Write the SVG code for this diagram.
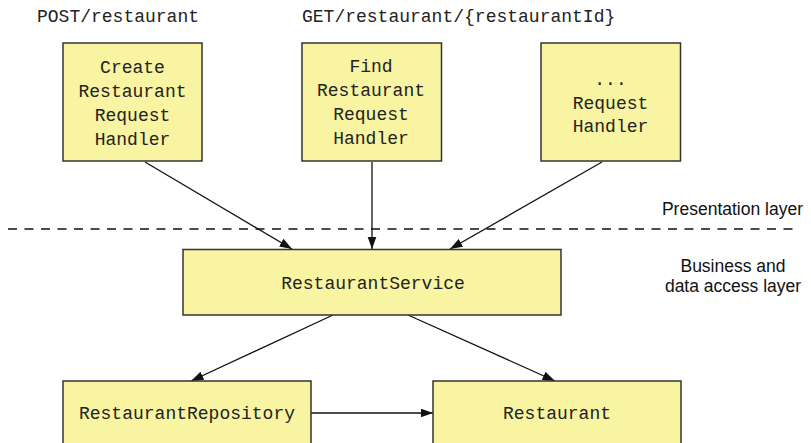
<svg xmlns="http://www.w3.org/2000/svg" width="811" height="443" viewBox="0 0 811 443">
<style>
.box{fill:#f9f4a1;stroke:#333;stroke-width:1.5}
.mono{font-family:"Liberation Mono","Courier New",monospace;font-size:18px;fill:#222}
.mid{text-anchor:middle}
.sans{font-family:"Liberation Sans",Arial,sans-serif;font-size:17.5px;fill:#111}
.conn{stroke:#111;stroke-width:1.3;fill:none;marker-end:url(#ah)}
</style>
<defs>
<marker id="ah" markerUnits="userSpaceOnUse" markerWidth="13" markerHeight="10" refX="12.5" refY="4.5" orient="auto">
<path d="M0,0 L12.5,4.5 L0,9 z" fill="#111"/>
</marker>
</defs>
<rect width="811" height="443" fill="#fff"/>
<g id="labels">
<text class="mono" x="37" y="22">POST/restaurant</text>
<text class="mono" x="302" y="22">GET/restaurant/{restaurantId}</text>
<text class="sans" x="803" y="215" text-anchor="end">Presentation layer</text>
<text class="sans mid" x="733" y="272">Business and</text>
<text class="sans mid" x="733" y="292">data access layer</text>
<line x1="8" y1="229" x2="800" y2="229" stroke="#111" stroke-width="1.3" stroke-dasharray="9 7.5"/>
</g>
<g id="connectors">
<line class="conn" x1="145" y1="162" x2="292" y2="249"/>
<line class="conn" x1="372" y1="162" x2="372" y2="249"/>
<line class="conn" x1="602" y1="162" x2="450" y2="249"/>
<line class="conn" x1="333" y1="315" x2="191" y2="381"/>
<line class="conn" x1="408" y1="315" x2="555" y2="381"/>
<line class="conn" x1="311" y1="413" x2="433" y2="413"/>
</g>
<g id="create-handler">
<rect class="box" x="63" y="43" width="139" height="118"/>
<text class="mono mid" x="132.5" y="72.5">Create</text>
<text class="mono mid" x="132.5" y="96.5">Restaurant</text>
<text class="mono mid" x="132.5" y="120.5">Request</text>
<text class="mono mid" x="132.5" y="144.5">Handler</text>
</g>
<g id="find-handler">
<rect class="box" x="302" y="43" width="139.5" height="118"/>
<text class="mono mid" x="371" y="72">Find</text>
<text class="mono mid" x="371" y="96">Restaurant</text>
<text class="mono mid" x="371" y="120">Request</text>
<text class="mono mid" x="371" y="144">Handler</text>
</g>
<g id="other-handler">
<rect class="box" x="541" y="43" width="139.5" height="118"/>
<text class="mono mid" x="610.5" y="85">...</text>
<text class="mono mid" x="610.5" y="108.5">Request</text>
<text class="mono mid" x="610.5" y="132">Handler</text>
</g>
<g id="restaurant-service">
<rect class="box" x="183" y="249.5" width="378" height="65.5"/>
<text class="mono mid" x="373" y="288.5">RestaurantService</text>
</g>
<g id="restaurant-repository">
<rect class="box" x="63" y="381" width="248" height="70"/>
<text class="mono mid" x="187" y="419">RestaurantRepository</text>
</g>
<g id="restaurant">
<rect class="box" x="433" y="381" width="248" height="70"/>
<text class="mono mid" x="557" y="419">Restaurant</text>
</g>
</svg>
